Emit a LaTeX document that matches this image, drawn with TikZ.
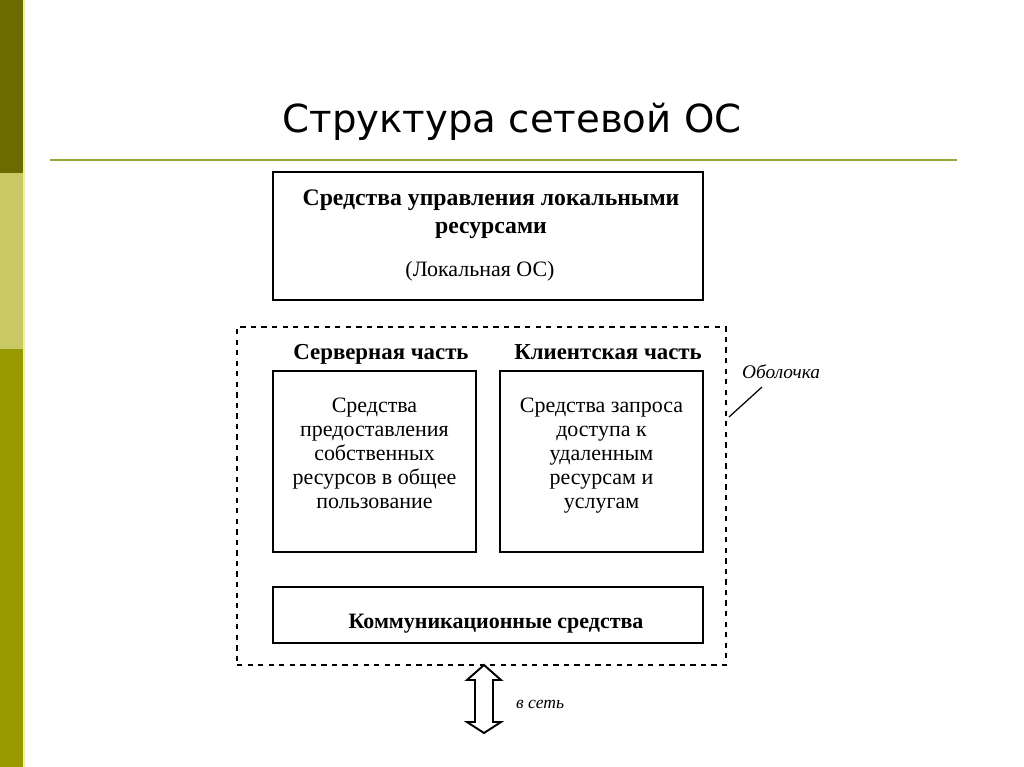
\documentclass[tikz,border=0pt]{standalone}
\usepackage{fontspec}
\setmainfont{Liberation Serif}
\newfontfamily\titlefont{DejaVu Sans}
\usepackage{tikz}
\usetikzlibrary{positioning}
\definecolor{bardark}{HTML}{6B6B00}
\definecolor{barlight}{HTML}{C8C864}
\definecolor{barolive}{HTML}{999900}
\definecolor{barline}{HTML}{F0F0A0}
\definecolor{ruleline}{HTML}{9BA33A}

\begin{document}
\begin{tikzpicture}[x=0.02cm, y=-0.02cm,
        box/.style={draw, line width=1.1pt, inner sep=0pt},
        head/.style={font=\bfseries\fontsize{13.5}{16}\selectfont},
        part/.style={font=\bfseries\fontsize{13}{16}\selectfont, anchor=base},
        body/.style={font=\fontsize{12.5}{13.6}\selectfont, align=center}]
            \useasboundingbox (0,0) rectangle (1024,767);
            \fill[bardark] (0,0) rectangle (23,173);
            \fill[barlight] (0,173) rectangle (23,349);
            \fill[barolive] (0,349) rectangle (23,767);
            \fill[barline] (23,0) rectangle (25,767);
            \node (title) at (512,122) {\titlefont\fontsize{22}{26}\selectfont Структура сетевой ОС};
            \draw[ruleline, line width=1.6pt] (50,160) -- (957,160);
            \node[box, minimum width=8.6cm, minimum height=2.56cm] (local) at (488,236) {};
            \node[head, align=center] (localtxt) at (491,214) {Средства управления локальными\\ресурсами};
            \node[font=\fontsize{12.5}{15}\selectfont] (localos) at (480,271) {(Локальная ОС)};
            \node[draw, dashed, line width=0.8pt, minimum width=9.78cm, minimum height=6.76cm] (shell) at (481.5,496) {};
            \node[box, minimum width=4.06cm, minimum height=3.62cm] (server) at (374.5,461.5) {};
            \node[box, minimum width=4.06cm, minimum height=3.62cm] (client) at (601.5,461.5) {};
            \node[part] (servertxt) at (381,359) {Серверная часть};
            \node[part] (clienttxt) at (608,359) {Клиентская часть};
            \node[body, below=12.5pt of server.north] (serverbody) {Средства\\предоставления\\собственных\\ресурсов в общее\\пользование};
            \node[body, below=12.5pt of client.north] (clientbody) {Средства запроса\\доступа к\\удаленным\\ресурсам и\\услугам};
            \node[box, minimum width=8.6cm, minimum height=1.12cm] (comm) at (488,615) {};
            \node[head, font=\bfseries\fontsize{12.5}{15}\selectfont] (commtxt) at (496,624) {Коммуникационные средства};
            \node[font=\itshape\fontsize{11}{14}\selectfont, anchor=west] (shelltxt) at (736,372) {Оболочка};
            \coordinate (lead) at (729,417);
            \draw[line width=0.7pt] (lead) -- (762,387);
            \draw[line width=1.1pt, fill=white] (484,665) -- (501,680) -- (493,680) -- (493,722) -- (501,722)
                -- (484,733) -- (467,722) -- (475,722) -- (475,680) -- (467,680) -- cycle;
            \node[font=\itshape\fontsize{10}{12}\selectfont, anchor=west] (nettxt) at (510,704) {в сеть};
        \end{tikzpicture}
\end{document}
